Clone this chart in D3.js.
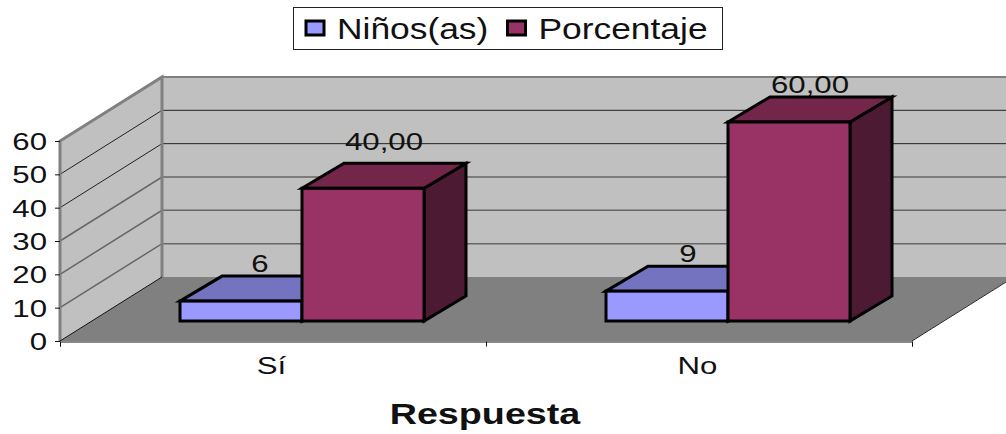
<!DOCTYPE html>
<html>

<head>
    <title>Respuesta</title>
    <meta charset="UTF-8" />
    <script src="https://d3js.org/d3.v7.min.js"></script>
    <style>
        html, body { margin: 0; padding: 0; background: #fff; overflow: hidden; }
        svg { display: block; }
        text { font-family: "Liberation Sans", Arial, sans-serif; fill: #111; }
    </style>
</head>

<body>
    <div id="chart"></div>
    <script>
        const categories = ["Sí", "No"];
        const seriesNames = ["Niños(as)", "Porcentaje"];
        const ninos = [6, 9];
        const porcentaje = [40, 60];
        const ninosLabels = ["6", "9"];
        const porcentajeLabels = ["40,00", "60,00"];
        const yTicks = [0, 10, 20, 30, 40, 50, 60];
        const frontColors = ["#9999ff", "#993366"];
        const topColors = ["#7373bf", "#732649"];
        const sideColors = ["#3d3d80", "#4d1a33"];

        const width = 1006, height = 434;
        const stretch = 1.3; // le texte de l'image d'origine est etire en largeur

        // repere : plan avant du graphique + decalage de profondeur
        const axisY = 341, left = 60, right = 912;
        const wallDx = 102, wallDy = -64;   // profondeur du mur
        const barOffX = 29;                 // plan avant des barres
        const barDx = 42, barDy = -25;      // profondeur des barres

        const svg = d3.select("#chart").append("svg")
            .attr("width", width)
            .attr("height", height);

        const y = d3.scaleLinear().domain([0, 60]).range([axisY, 141]);
        const yBar = d3.scaleLinear().domain([0, 60]).range([321, 122]);
        const x0 = d3.scaleBand().domain(categories).range([left, right]);
        const x1 = d3.scaleBand().domain(seriesNames).range([x0.bandwidth() / 2 - 122, x0.bandwidth() / 2 + 122]);

        const poly = pts => pts.map(p => p.join(",")).join(" ");

        // mur du fond, mur gauche, sol
        svg.append("polygon").attr("fill", "#c0c0c0")
            .attr("points", poly([[left + wallDx, y(60) + wallDy], [right + wallDx, y(60) + wallDy], [right + wallDx, y(0) + wallDy], [left + wallDx, y(0) + wallDy]]));
        svg.append("polygon").attr("fill", "#c0c0c0")
            .attr("points", poly([[left, y(60)], [left + wallDx, y(60) + wallDy], [left + wallDx, y(0) + wallDy], [left, y(0)]]));
        svg.append("polygon").attr("fill", "#808080")
            .attr("points", poly([[left, y(0)], [right, y(0)], [right + wallDx, y(0) + wallDy], [left + wallDx, y(0) + wallDy]]));

        // grille
        const grid = svg.append("g");
        grid.selectAll("polyline").data(yTicks.slice(1, -1)).join("polyline")
            .attr("fill", "none")
            .attr("stroke", d => d >= 40 ? "#222" : "#666")
            .attr("stroke-width", d => d >= 40 ? 1 : 1.5)
            .attr("points", d => poly([[left, y(d)], [left + wallDx, y(d) + wallDy], [right + wallDx, y(d) + wallDy]]));

        // bords des murs
        svg.append("polyline").attr("fill", "none").attr("stroke", "#808080").attr("stroke-width", 3)
            .attr("points", poly([[left, y(0)], [left, y(60)], [left + wallDx, y(60) + wallDy], [left + wallDx, y(0) + wallDy]]));
        svg.append("line").attr("stroke", "#808080").attr("stroke-width", 2)
            .attr("x1", left + wallDx).attr("x2", right + wallDx)
            .attr("y1", y(60) + wallDy).attr("y2", y(60) + wallDy);
        svg.append("line").attr("stroke", "#111").attr("stroke-width", 1)
            .attr("x1", left).attr("y1", y(0)).attr("x2", left + wallDx).attr("y2", y(0) + wallDy);
        svg.append("line").attr("stroke", "#fff").attr("stroke-width", 2)
            .attr("x1", right).attr("y1", y(0) + 1).attr("x2", right + wallDx).attr("y2", y(0) + wallDy + 1);
        svg.append("line").attr("stroke", "#222").attr("stroke-width", 1)
            .attr("x1", right).attr("y1", y(0)).attr("x2", right + wallDx).attr("y2", y(0) + wallDy);

        // axes
        const yAxis = svg.append("g")
            .attr("transform", `translate(${left},0)`)
            .call(d3.axisLeft(y).tickValues(yTicks).tickSize(5).tickPadding(9));
        yAxis.select(".domain").remove();
        yAxis.selectAll("line").attr("stroke", "#111");
        yAxis.selectAll("text")
            .attr("font-size", 24)
            .attr("transform", `scale(${stretch},1)`)
            .attr("x", -13 / stretch)
            .attr("dy", "0.36em");
        yAxis.selectAll("text").style("fill", "#111").style("font-family", '"Liberation Sans", Arial, sans-serif');

        const edges = d3.scaleLinear().domain([0, 2]).range([left, right]);
        const xAxis = svg.append("g").attr("transform", `translate(0,${axisY + 0.5})`)
            .call(d3.axisBottom(edges).tickValues([0, 1, 2]).tickSize(5).tickFormat(""));
        xAxis.select(".domain").attr("stroke", "#111");
        xAxis.selectAll("line").attr("stroke", "#111");

        svg.selectAll(".cat").data(categories).join("text")
            .attr("class", "cat")
            .attr("text-anchor", "middle")
            .attr("font-size", 24)
            .attr("transform", d => `translate(${x0(d) + x0.bandwidth() / 2 - 1.5},374) scale(${stretch},1)`)
            .text(d => d);

        // etiquettes de valeur, dessinees sous les barres
        const rows = [];
        categories.forEach((c, i) => {
            rows.push({ c: c, s: seriesNames[0], k: 0, v: ninos[i], label: ninosLabels[i] });
            rows.push({ c: c, s: seriesNames[1], k: 1, v: porcentaje[i], label: porcentajeLabels[i] });
        });
        const barX = d => x0(d.c) + x1(d.s) + barOffX;

        svg.selectAll(".val").data(rows).join("text")
            .attr("class", "val")
            .attr("text-anchor", "middle")
            .attr("font-size", 24)
            .attr("transform", d => {
                // l'etiquette 40,00 est plus haute que les autres sur l'original
                const up = d.v === 40 ? 13 : 4;
                const shift = d.v === 6 ? -2 : 0;
                return `translate(${barX(d) + x1.bandwidth() / 2 + barDx / 2 + shift},${yBar(d.v) + barDy - up}) scale(${stretch},1)`;
            })
            .text(d => d.label);

        // barres 3D
        const bar = svg.selectAll(".bar").data(rows).join("g").attr("class", "bar")
            .attr("stroke", "#000").attr("stroke-width", 3).attr("stroke-linejoin", "miter");
        bar.append("polygon").attr("fill", d => sideColors[d.k])
            .attr("points", d => {
                const x = barX(d) + x1.bandwidth(), t = yBar(d.v), b = yBar(0);
                return poly([[x, t], [x + barDx, t + barDy], [x + barDx, b + barDy], [x, b]]);
            });
        bar.append("polygon").attr("fill", d => topColors[d.k])
            .attr("points", d => {
                const x = barX(d), w = x1.bandwidth(), t = yBar(d.v);
                return poly([[x, t], [x + barDx, t + barDy], [x + w + barDx, t + barDy], [x + w, t]]);
            });
        bar.append("rect").attr("fill", d => frontColors[d.k])
            .attr("x", barX)
            .attr("y", d => yBar(d.v))
            .attr("width", x1.bandwidth())
            .attr("height", d => yBar(0) - yBar(d.v));

        // titre de l'axe
        svg.append("text")
            .attr("text-anchor", "middle")
            .attr("font-size", 29)
            .attr("font-weight", "bold")
            .attr("transform", `translate(485,424) scale(1.3,1)`)
            .text("Respuesta");

        // legende
        const legend = svg.append("g");
        legend.append("rect")
            .attr("x", 293.5).attr("y", 7.5).attr("width", 429).attr("height", 42)
            .attr("fill", "#fff").attr("stroke", "#222");
        const legendX = [306, 507.5];
        legend.selectAll("rect.sw").data(seriesNames).join("rect")
            .attr("class", "sw")
            .attr("x", (d, i) => legendX[i]).attr("y", 21)
            .attr("width", 18).attr("height", 14)
            .attr("fill", (d, i) => frontColors[i])
            .attr("stroke", "#000").attr("stroke-width", 3);
        legend.selectAll("text").data(seriesNames).join("text")
            .attr("transform", (d, i) => `translate(${legendX[i] + 31},39) scale(1.22,1)`)
            .attr("font-size", 29)
            .text(d => d);
    </script>
</body>

</html>
